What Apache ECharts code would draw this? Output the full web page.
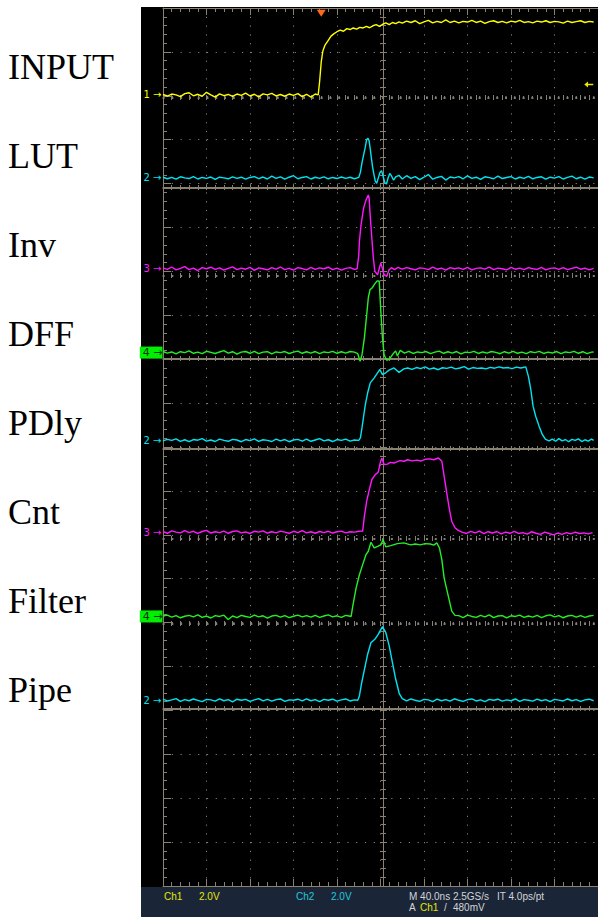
<!DOCTYPE html>
<html><head><meta charset="utf-8">
<script src="https://cdn.jsdelivr.net/npm/echarts@6/dist/echarts.min.js"></script>
<style>html,body{margin:0;padding:0;background:#fff}#c{width:598px;height:917px}</style>
</head><body><div id="c"></div>
<script>
// ---- data ----
const traceNames = ['INPUT','LUT','Inv','DFF','PDly','Cnt','Filter','Pipe'];
const channelNums = ['1','2','3','4','2','3','4','2'];
const channelColors = ['#ffff00','#00e4f2','#ff18ff','#26ee26','#00e4f2','#ff18ff','#26ee26','#00e4f2'];
const offsetsDiv = [18.02,16.13,14.06,12.15,10.15,8.06,6.14,4.23]; // channel position (div)
const voltsPerDiv = 2;
const triggerTime = 145.5;   // ns
const triggerLevel = 0.48;   // V
const statusRow1 = ['Ch1','2.0V','Ch2','2.0V','M 40.0ns 2.5GS/s','IT 4.0ps/pt'];
const statusRow2 = ['A','Ch1','/','480mV'];

// [time ns, volts]
const inputData = [[0,0.02],[4,-0.05],[8,0.04],[12,0],[16,-0.08],[20,0.06],[24,0.1],[28,-0.04],[32,0.03],[36,-0.06],[40,0.12],[44,0.0],[48,-0.1],[52,0.05],[56,-0.03],[60,0.02],[64,-0.07],[68,0.04],[72,-0.02],[76,0.08],[80,-0.05],[84,0.03],[88,-0.09],[92,0.05],[96,0.0],[100,0.07],[104,-0.04],[108,0.02],[112,-0.06],[116,0.04],[120,-0.02],[124,0.06],[128,-0.08],[132,0.03],[136,-0.1],[140,0.04],[142.7,0.0],[144,0.6],[145.5,1.5],[147,2.0],[149,2.27],[151.5,2.45],[154.5,2.68],[157,2.78],[160,2.88],[163,2.95],[166,2.9],[169,3.02],[172,2.98],[175,3.05],[178,3.0],[181,3.08],[184,3.05],[187,3.12],[190,3.06],[193,3.15],[196,3.2],[199,3.12],[202,3.22],[205,3.28],[208,3.2],[211,3.3],[214,3.25],[217,3.33],[220,3.27],[224,3.36],[228,3.3],[232,3.38],[236,3.25],[240,3.33],[244,3.4],[248,3.28],[252,3.35],[256,3.3],[260,3.42],[264,3.3],[268,3.36],[272,3.28],[276,3.35],[280,3.32],[284,3.4],[288,3.3],[292,3.36],[296,3.26],[300,3.34],[304,3.38],[308,3.3],[312,3.35],[316,3.28],[320,3.36],[324,3.32],[328,3.4],[332,3.3],[336,3.34],[340,3.28],[344,3.36],[348,3.32],[352,3.38],[356,3.3],[360,3.35],[364,3.33],[368,3.27],[372,3.36],[376,3.3],[380,3.34],[384,3.38],[388,3.3],[392,3.35],[396,3.32]];

const lutData = [[0,0.03],[4,-0.04],[8,0.02],[12,-0.06],[16,0.05],[20,0],[24,-0.03],[28,0.06],[32,-0.05],[36,0.02],[40,-0.02],[44,0.04],[48,-0.07],[52,0.03],[56,0],[60,-0.04],[64,0.05],[68,-0.02],[72,0.03],[76,-0.06],[80,0.02],[84,0.06],[88,-0.03],[92,0.04],[96,-0.05],[100,0.08],[104,-0.02],[108,0.05],[112,-0.06],[116,0.03],[120,0.1],[124,-0.04],[128,0.02],[132,0.06],[136,-0.05],[140,0.03],[144,-0.02],[148,0.05],[152,-0.04],[156,0.02],[160,-0.03],[164,0.04],[168,-0.02],[172,0.03],[176,-0.04],[180,0.02],[181.5,0.25],[183,0.7],[184.5,1.05],[186,1.4],[187.3,1.75],[188.5,1.8],[189.5,1.7],[190.5,1.35],[191.5,0.95],[192.7,0.5],[194,0.15],[195.2,-0.15],[196.5,-0.25],[198,0.0],[199.5,0.25],[201,0.33],[202.5,0.05],[204,-0.22],[205.5,-0.28],[207,0.0],[208.5,0.2],[210,0.1],[212,-0.1],[214,0.05],[217,0.12],[220,-0.05],[224,0.1],[228,-0.02],[232,0.06],[236,-0.08],[240,0.03],[244,0.15],[248,-0.06],[252,0.02],[256,0.07],[260,-0.1],[264,0.04],[268,0.0],[272,0.06],[276,-0.04],[280,0.09],[284,-0.02],[288,0.03],[292,-0.07],[296,0.05],[300,0.01],[304,-0.04],[308,0.08],[312,-0.03],[316,0.02],[320,0.06],[324,-0.05],[328,0.03],[332,-0.02],[336,0.07],[340,-0.04],[344,0.02],[348,0.05],[352,-0.06],[356,0.03],[360,-0.01],[364,0.06],[368,-0.05],[372,0.02],[376,0.08],[380,-0.04],[384,0.03],[388,-0.06],[392,0.04],[396,0.0]];

const invData = [[0,0.04],[4,-0.03],[8,0.08],[12,-0.05],[16,0.02],[20,0.1],[24,-0.04],[28,0.03],[32,-0.08],[36,0.05],[40,0.0],[44,0.07],[48,-0.03],[52,0.04],[56,-0.06],[60,0.02],[64,0.09],[68,-0.04],[72,0.03],[76,-0.02],[80,0.06],[84,-0.07],[88,0.04],[92,0.0],[96,-0.05],[100,0.05],[104,-0.02],[108,0.08],[112,-0.04],[116,0.02],[120,-0.06],[124,0.05],[128,0.01],[132,-0.05],[136,0.06],[140,-0.03],[144,0.04],[148,0.0],[152,0.07],[156,-0.04],[160,0.03],[164,-0.06],[168,0.02],[172,0.05],[176,-0.03],[178.5,0.0],[180,0.6],[180.6,1.24],[182.1,2.0],[184.5,2.77],[186.7,3.14],[188.8,3.36],[189.6,3.2],[190.3,2.6],[191.8,1.55],[193.4,0.5],[194.8,-0.12],[197.3,-0.27],[200.3,0.27],[203.3,-0.27],[205.7,-0.35],[207.9,-0.05],[210,0.05],[213,-0.04],[216,0.06],[220,-0.02],[224,0.05],[228,0.0],[232,-0.05],[236,0.04],[240,0.02],[244,-0.04],[248,0.07],[252,-0.02],[256,0.03],[260,-0.06],[264,0.05],[268,0.0],[272,0.04],[276,-0.03],[280,0.06],[284,-0.05],[288,0.02],[292,0.04],[296,-0.02],[300,0.07],[304,-0.04],[308,0.03],[312,0.0],[316,-0.05],[320,0.06],[324,-0.02],[328,0.03],[332,-0.04],[336,0.05],[340,0.0],[344,-0.03],[348,0.06],[352,-0.05],[356,0.02],[360,0.04],[364,-0.03],[368,0.05],[372,-0.04],[376,0.02],[380,0.07],[384,-0.02],[388,0.03],[392,-0.05],[396,0.02]];

const dffData = [[0,0.05],[4,-0.02],[8,0.03],[12,-0.06],[16,0.04],[20,0.0],[24,0.08],[28,-0.03],[32,0.02],[36,-0.05],[40,0.06],[44,0.01],[48,-0.04],[52,0.03],[56,0.09],[60,-0.02],[64,0.04],[68,-0.07],[72,0.02],[76,0.05],[80,-0.03],[84,0.06],[88,-0.05],[92,0.02],[96,0.04],[100,-0.06],[104,0.03],[108,0.0],[112,0.05],[116,-0.04],[120,0.02],[124,0.07],[128,-0.03],[132,0.04],[136,-0.02],[140,0.05],[144,-0.05],[148,0.03],[152,0.0],[156,0.06],[160,-0.03],[164,0.04],[168,-0.02],[172,0.05],[176,0.02],[179.1,-0.05],[181.2,-0.39],[183,-0.1],[185.2,0.68],[187.3,1.73],[188.8,2.5],[190.3,2.86],[192.7,2.97],[194.2,3.1],[196.7,3.26],[198.8,3.26],[200.3,1.88],[201.8,0.68],[203.3,-0.1],[205.7,-0.35],[208.2,-0.3],[210.9,-0.1],[213.9,0.08],[215.5,-0.15],[218.2,0.1],[222,-0.02],[226,0.06],[230,-0.04],[234,0.03],[238,0.0],[242,0.05],[246,-0.05],[250,0.02],[254,0.07],[258,-0.03],[262,0.04],[266,-0.02],[270,0.05],[274,-0.06],[278,0.02],[282,0.0],[286,0.06],[290,-0.04],[294,0.03],[298,-0.02],[302,0.05],[306,0.01],[310,-0.05],[314,0.04],[318,-0.02],[322,0.06],[326,-0.03],[330,0.02],[334,-0.05],[338,0.04],[342,0.0],[346,0.06],[350,-0.04],[354,0.02],[358,-0.02],[362,0.05],[366,-0.05],[370,0.03],[374,0.0],[378,0.06],[382,-0.03],[386,0.04],[390,-0.05],[394,0.02],[396,0.03]];

const pdlyData = [[0,-0.02],[4,0.05],[8,0.0],[12,0.07],[16,-0.04],[20,0.03],[24,-0.06],[28,0.04],[32,0.01],[36,0.08],[40,-0.03],[44,0.02],[48,-0.05],[52,0.06],[56,0.0],[60,-0.04],[64,0.05],[68,0.02],[72,-0.06],[76,0.04],[80,-0.01],[84,0.07],[88,-0.04],[92,0.03],[96,0.0],[100,-0.05],[104,0.06],[108,-0.02],[112,0.04],[116,-0.06],[120,0.02],[124,0.05],[128,-0.03],[132,0.06],[136,-0.04],[140,0.02],[144,0.08],[148,-0.02],[152,0.03],[156,-0.05],[160,0.04],[164,0.0],[168,0.06],[172,-0.03],[176,0.02],[180,0.0],[181.5,0.12],[183,0.58],[184.5,1.1],[186.1,1.64],[188.2,2.17],[190.6,2.62],[194.2,2.85],[197.3,3.08],[199.4,3.23],[201.8,3.0],[204.8,3.08],[207.9,3.2],[212.4,3.3],[217,3.1],[221.5,3.26],[225,3.3],[229,3.24],[233,3.32],[237,3.27],[241,3.35],[245,3.25],[249,3.3],[253,3.22],[257,3.31],[261,3.28],[265,3.34],[269,3.26],[273,3.3],[277,3.36],[281,3.25],[285,3.32],[289,3.28],[293,3.3],[297,3.26],[301,3.33],[305,3.29],[309,3.35],[313,3.3],[317,3.32],[321,3.27],[325,3.34],[329,3.3],[331,3.32],[333.6,3.35],[336,2.92],[338.2,2.32],[340.3,1.56],[342.7,1.1],[345.8,0.65],[348.8,0.27],[351.8,0.05],[355,-0.02],[358,0.06],[361,-0.04],[364,0.08],[367,-0.02],[370,0.04],[373,-0.06],[376,0.05],[379,0.0],[382,0.07],[385,-0.05],[388,0.03],[391,-0.03],[394,0.06],[396,0.0]];

const cntData = [[0,0.03],[4,-0.05],[8,0.06],[12,0.0],[16,-0.03],[20,0.07],[24,-0.02],[28,0.04],[32,-0.06],[36,0.03],[40,0.08],[44,-0.04],[48,0.02],[52,-0.02],[56,0.05],[60,-0.05],[64,0.03],[68,0.06],[72,-0.03],[76,0.01],[80,-0.06],[84,0.04],[88,0.0],[92,0.06],[96,-0.04],[100,0.02],[104,-0.03],[108,0.05],[112,0.0],[116,-0.05],[120,0.04],[124,-0.02],[128,0.07],[132,-0.03],[136,0.02],[140,-0.05],[144,0.03],[148,-0.02],[152,0.04],[156,-0.04],[160,0.02],[164,0.05],[168,-0.03],[172,0.02],[176,0.0],[180,0.04],[183.6,0.05],[185.2,0.73],[187.3,1.41],[189.7,1.94],[192.1,2.4],[195.2,2.62],[197.9,2.73],[199.7,3.15],[201.2,3.38],[203.3,3.08],[206.4,3.1],[209,3.18],[212.4,3.15],[215,3.2],[218,3.26],[221.5,3.23],[225,3.3],[229,3.25],[233.6,3.28],[237,3.24],[241,3.32],[245.5,3.34],[249,3.3],[253.3,3.38],[256.4,3.23],[258.5,2.55],[260.9,1.79],[263.4,1.03],[265.5,0.5],[268.5,0.2],[271.5,0.08],[275,0.0],[279,-0.06],[283,0.04],[287,-0.03],[291,0.05],[295,-0.07],[299,0.02],[303,-0.04],[307,0.03],[311,-0.08],[315,0.0],[319,-0.05],[323,0.04],[327,-0.06],[331,-0.02],[335,-0.09],[339,0.02],[343,-0.05],[347,-0.1],[351,0.0],[355,-0.06],[359,-0.12],[363,-0.04],[367,-0.1],[371,-0.02],[375,-0.08],[379,0.0],[383,-0.06],[387,-0.03],[391,-0.08],[395,-0.02]];

const filterData = [[0,0.02],[4,0.06],[8,-0.03],[12,0.04],[16,-0.06],[20,0.01],[24,0.05],[28,-0.02],[32,0.07],[36,-0.04],[40,0.02],[44,-0.07],[48,0.04],[52,0.0],[56,0.06],[60,-0.14],[64,0.02],[68,-0.05],[72,0.05],[76,0.0],[80,-0.04],[84,0.06],[88,-0.02],[92,0.03],[96,-0.08],[100,0.02],[104,0.05],[108,-0.03],[112,0.04],[116,-0.05],[120,0.01],[124,0.06],[128,-0.02],[132,0.04],[136,-0.03],[140,0.05],[144,-0.04],[148,0.02],[152,0.07],[156,-0.02],[160,0.03],[164,-0.04],[168,0.05],[171,0.02],[173,0.0],[174.5,0.47],[177.6,1.3],[180.6,1.9],[183.6,2.36],[186.7,2.82],[188.8,2.97],[191.2,3.38],[194.2,3.12],[197.9,3.2],[200.3,3.26],[202.4,3.5],[204.8,3.17],[209.4,3.23],[215.5,3.32],[221.5,3.35],[227.6,3.26],[232,3.3],[236.7,3.26],[241,3.32],[245.8,3.3],[249,3.25],[251.8,3.35],[254.2,3.12],[256.4,2.59],[258.5,1.76],[260.9,1.23],[263.4,0.7],[265.5,0.24],[268.5,0.05],[272,0.04],[276,-0.05],[280,0.06],[284,0.0],[288,-0.04],[292,0.05],[296,-0.02],[300,0.07],[304,-0.05],[308,0.02],[312,0.04],[316,-0.06],[320,0.03],[324,0.0],[328,0.06],[332,-0.04],[336,0.02],[340,-0.03],[344,0.05],[348,-0.05],[352,0.03],[356,0.07],[360,-0.02],[364,0.04],[368,-0.06],[372,0.02],[376,0.05],[380,-0.03],[384,0.04],[388,-0.04],[392,0.02],[396,0.05]];

const pipeData = [[0,0.05],[4,-0.03],[8,0.02],[12,0.08],[16,-0.05],[20,0.03],[24,-0.02],[28,0.06],[32,0.0],[36,-0.06],[40,0.04],[44,0.02],[48,-0.04],[52,0.07],[56,-0.02],[60,0.03],[64,-0.07],[68,0.05],[72,0.0],[76,0.04],[80,-0.05],[84,0.02],[88,0.08],[92,-0.03],[96,0.04],[100,-0.04],[104,0.03],[108,0.06],[112,-0.05],[116,0.02],[120,0.0],[124,0.05],[128,-0.03],[132,0.07],[136,-0.02],[140,0.03],[144,-0.06],[148,0.04],[152,0.0],[156,0.05],[160,-0.04],[164,0.02],[168,0.06],[172,-0.03],[176,0.02],[179.1,0.0],[180.6,0.2],[182.7,0.8],[185.2,1.4],[188.2,2.1],[191.2,2.62],[194.8,2.78],[197.9,3.0],[201.8,3.36],[204.8,3.1],[207.9,2.5],[210.9,1.74],[213.9,0.98],[217.3,0.3],[220,0.08],[224,-0.03],[228,0.06],[232,0.0],[236,-0.05],[240,0.04],[244,0.02],[248,-0.06],[252,0.05],[256,-0.02],[260,0.03],[264,-0.04],[268,0.07],[272,0.0],[276,-0.05],[280,0.03],[284,0.06],[288,-0.03],[292,0.02],[296,-0.06],[300,0.04],[304,0.0],[308,0.05],[312,-0.04],[316,0.02],[320,-0.02],[324,0.06],[328,-0.05],[332,0.03],[336,0.0],[340,-0.04],[344,0.05],[348,-0.02],[352,0.03],[356,-0.06],[360,0.04],[364,0.01],[368,-0.03],[372,0.06],[376,-0.02],[380,0.03],[384,-0.05],[388,0.02],[392,0.05],[396,-0.02]];

const traces = [inputData,lutData,invData,dffData,pdlyData,cntData,filterData,pipeData];

// ---- layout / style ----
const L=163, T=8, W=440, H=878;
const tickLineTops = [97,187,275,358,448,538,623,708];
const tickLineSolid = [false,true,false,true,true,false,false,true];
const tan='#8a8270', dot='#808080';
const dotted=[1.2,7.58];

const grids=[{left:L,top:T,width:W,height:H},{left:383,top:T,width:1,height:H}];
const xAxes=[], yAxes=[];
const hide={show:false};
function xa(grid,pos,extra){return Object.assign({type:'value',min:0,max:400,interval:40,gridIndex:grid,position:pos,
  axisLabel:hide,splitLine:hide,axisLine:{show:true,onZero:false,lineStyle:{color:tan}},
  axisTick:{show:true,inside:true,length:7,lineStyle:{color:tan}},
  minorTick:{show:true,splitNumber:5,length:4,lineStyle:{color:tan}}},extra||{});}
xAxes.push(xa(0,'bottom',{splitLine:{show:true,lineStyle:{color:dot,type:dotted}}}));
xAxes.push(xa(0,'top'));
xAxes.push({type:'value',gridIndex:1,show:false,min:0,max:1});
yAxes.push({type:'value',min:0,max:20,interval:1,gridIndex:0,position:'left',axisLabel:hide,
  axisLine:{show:true,onZero:false,lineStyle:{color:tan}},
  axisTick:{show:true,inside:true,length:8,lineStyle:{color:tan}},
  minorTick:{show:true,splitNumber:5,length:4,lineStyle:{color:tan}},
  splitLine:{show:true,lineStyle:{color:dot,type:dotted}}});
['left','right'].forEach((p,i)=>yAxes.push({type:'value',min:0,max:20,interval:1,gridIndex:1,position:p,axisLabel:hide,splitLine:hide,
  axisLine:{show:i===0,onZero:false,lineStyle:{color:tan}},
  axisTick:{show:true,inside:true,length:4,lineStyle:{color:tan}},
  minorTick:{show:true,splitNumber:5,length:3,lineStyle:{color:tan}}}));
tickLineTops.forEach((top,k)=>{
  const g=grids.length;
  grids.push({left:L,top:top,width:W,height:1});
  const line={show:true,onZero:false,lineStyle:{color:tickLineSolid[k]?tan:dot,type:tickLineSolid[k]?'solid':dotted}};
  ['bottom','top'].forEach(p=>xAxes.push(xa(g,p,{axisLine:line,
    axisTick:{show:true,inside:true,length:3,lineStyle:{color:tan}},
    minorTick:{show:true,splitNumber:5,length:3,lineStyle:{color:tan}}})));
  yAxes.push({type:'value',gridIndex:g,show:false,min:0,max:1});
});

const series = traces.map((arr,i)=>{
  const isBox = channelNums[i]==='4';
  const mp=[{coord:[0,offsetsDiv[i]],symbol:'rect',symbolSize:[1,1],itemStyle:{color:'rgba(0,0,0,0)'},
    label:{show:true,position:'left',distance:isBox?0:1,formatter:channelNums[i]+(isBox?' →':' →'),
      color:isBox?'#003300':channelColors[i],fontSize:isBox?11:10,fontFamily:'DejaVu Sans',
      backgroundColor:isBox?'#00ee00':'transparent',padding:isBox?[1,0,0,3]:0}}];
  if(i===0){
    mp.push({coord:[triggerTime,19.95],symbol:'triangle',symbolRotate:180,symbolSize:[9,7],symbolOffset:[0,3],itemStyle:{color:'#ff6a1a'},label:hide});
    mp.push({coord:[391.5,offsetsDiv[0]+triggerLevel/voltsPerDiv],symbol:'path://M0,4 L5,0 L5,3 L12,3 L12,5 L5,5 L5,8 Z',symbolSize:[9,6],itemStyle:{color:'#e8e800'},label:hide});
  }
  return {type:'line',name:traceNames[i],xAxisIndex:0,yAxisIndex:0,showSymbol:false,symbol:'none',z:5,
    lineStyle:{color:channelColors[i],width:1.4},
    data:arr.map(([t,v])=>[t,offsetsDiv[i]+v/voltsPerDiv]),
    markPoint:{silent:true,animation:false,data:mp}};
});

const labelY=[67,156,245,334,423,512,601,690];
const graphics=[
  {type:'rect',z:-10,shape:{x:141,y:7,width:457,height:880},style:{fill:'#000'}},
  {type:'rect',z:-10,shape:{x:141,y:887,width:457,height:30},style:{fill:'#1a2638'}}
];
traceNames.forEach((n,i)=>graphics.push({type:'text',x:8,y:labelY[i],style:{text:n,fill:'#000',font:'36px "Liberation Serif"',verticalAlign:'middle'}}));
const f='10px "Liberation Sans"';
const r1x=[164,199,296,331,409,497], r1c=['#e6e600','#e6e600','#22c8dc','#22c8dc','#d4d4d4','#d4d4d4'];
statusRow1.forEach((s,i)=>graphics.push({type:'text',x:r1x[i],y:896,style:{text:s,fill:r1c[i],font:f,verticalAlign:'middle'}}));
const r2x=[409,420,444,453], r2c=['#d4d4d4','#e6e600','#d4d4d4','#d4d4d4'];
statusRow2.forEach((s,i)=>graphics.push({type:'text',x:r2x[i],y:907,style:{text:s,fill:r2c[i],font:f,verticalAlign:'middle'}}));

const chart=echarts.init(document.getElementById('c'),null,{renderer:'svg',width:598,height:917});
chart.setOption({animation:false,backgroundColor:'#fff',grid:grids,xAxis:xAxes,yAxis:yAxes,series:series,graphic:graphics});
</script></body></html>
